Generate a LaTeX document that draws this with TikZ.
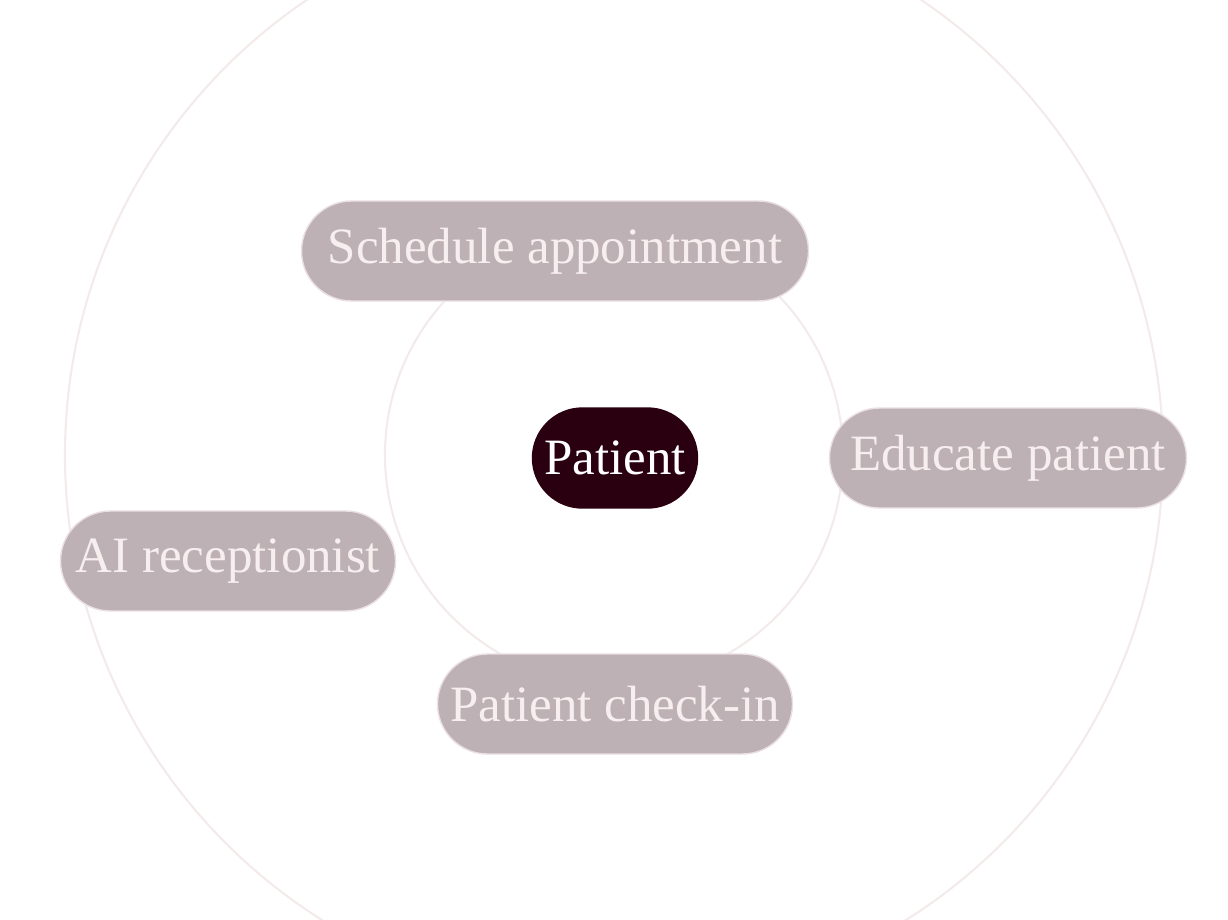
\documentclass[tikz,border=0pt]{standalone}
\usepackage{fontspec}
\setmainfont{Liberation Serif}
\usetikzlibrary{shapes.misc}
\definecolor{ringcol}{HTML}{F3EBEA}
\definecolor{pillfill}{HTML}{BDB1B5}
\definecolor{pilltext}{HTML}{F7EFEF}
\definecolor{pillline}{HTML}{EADFE2}
\definecolor{hubfill}{HTML}{2A0010}
\begin{document}
\begin{tikzpicture}[x=0.02cm,y=-0.02cm,
  pill/.style={rounded rectangle,fill=pillfill,draw=pillline,line width=0.8pt,
    text=pilltext,font=\fontsize{29}{32}\selectfont,minimum height=2cm,inner xsep=0.5cm},
  hub/.style={pill,fill=hubfill,draw=hubfill,text=white}]
\useasboundingbox (0,0) rectangle (1228,920);
\clip (0,0) rectangle (1228,920);
\coordinate (O) at (614,455);
\draw[ringcol,line width=1.2pt] (O) circle[radius=229*0.02cm];
\draw[ringcol,line width=1.2pt] (O) circle[radius=549*0.02cm];
\node[hub,minimum width=215*0.02cm] (patient) at (615,458) {Patient};
\node[pill,minimum width=557*0.02cm] (schedule) at (555,251) {Schedule appointment};
\node[pill,minimum width=407*0.02cm] (educate) at (1008,458) {Educate patient};
\node[pill,minimum width=385*0.02cm] (receptionist) at (228,561) {AI receptionist};
\node[pill,minimum width=405*0.02cm] (checkin) at (615,704) {Patient check-in};
\end{tikzpicture}
\end{document}
